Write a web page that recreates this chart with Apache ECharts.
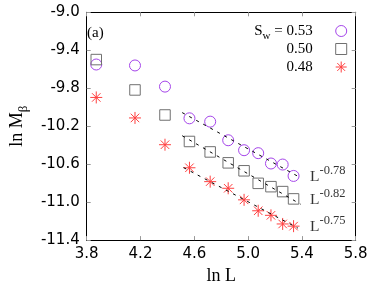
<!DOCTYPE html>
<html><head><meta charset="utf-8">
<script src="https://cdn.jsdelivr.net/npm/echarts@6/dist/echarts.min.js"></script>
<style>html,body{margin:0;padding:0;background:#fff}#c{width:374px;height:290px}</style>
</head><body><div id="c"></div>
<script>
// ln L values (L = 48 ... 208)
const lnL = [3.871, 4.159, 4.382, 4.564, 4.718, 4.852, 4.970, 5.075, 5.170, 5.257, 5.338];
// ln M_beta for each S_w
const m053 = [-9.550, -9.560, -9.783, -10.117, -10.152, -10.348, -10.453, -10.484, -10.593, -10.604, -10.724];
const m050 = [-9.498, -9.818, -10.082, -10.361, -10.471, -10.586, -10.670, -10.802, -10.837, -10.889, -10.966];
const m048 = [-9.897, -10.113, -10.395, -10.638, -10.784, -10.854, -10.976, -11.091, -11.139, -11.230, -11.253];
const seriesNames = ['S_w = 0.53', '0.50', '0.48'];
// power-law fits  ln M = a + b ln L
const fitExponents = [-0.78, -0.82, -0.75];
const fitIntercepts = [-6.539, -6.602, -7.246];
const fitStart = [4.51, 4.51, 4.52];
const fitEnd = [5.39, 5.39, 5.37];
const fitLabels = ['-0.78', '-0.82', '-0.75'];
const fitLabelY = [-10.733, -10.975, -11.265];
const fitLabelX = 5.461;
const xRange = [3.8, 5.8];
const yRange = [-11.4, -9.0];
const tickStep = 0.4;

const serif = '"Liberation Serif", "DejaVu Serif", serif';
const sans = '"DejaVu Sans", sans-serif';
const colors = ['#a545ea', '#707070', '#ff4040'];
const starPath = 'path://M0,5L10,5M5,0L5,10M1.46,1.46L8.54,8.54M8.54,1.46L1.46,8.54';
const symbols = ['circle', 'rect', starPath];
const sizes = [11, 10.5, 12];
const values = [m053, m050, m048];

const chart = echarts.init(document.getElementById('c'), null, {renderer: 'canvas'});

const series = [];
values.forEach((arr, i) => {
  series.push({
    name: seriesNames[i], type: 'scatter', xAxisIndex: 0, yAxisIndex: 0,
    data: lnL.map((x, k) => [x, arr[k]]),
    symbol: symbols[i], symbolSize: sizes[i],
    itemStyle: {color: 'rgba(0,0,0,0)', borderColor: colors[i], borderWidth: 1, opacity: 1},
    z: 3
  });
});
fitExponents.forEach((b, i) => {
  const a = fitIntercepts[i];
  series.push({
    type: 'line', xAxisIndex: 0, yAxisIndex: 0, showSymbol: false, silent: true,
    data: [[fitStart[i], a + b * fitStart[i]], [fitEnd[i], a + b * fitEnd[i]]],
    lineStyle: {color: '#000', width: 1, type: [3, 5]}, z: 4
  });
});
series.push({
  type: 'scatter', xAxisIndex: 0, yAxisIndex: 0, symbolSize: 0, silent: true,
  data: fitLabels.map((t, i) => ({value: [fitLabelX, fitLabelY[i]], name: t})),
  label: {
    show: true, position: 'right', distance: 0,
    formatter: p => '{L|L}{s|' + p.name + '}',
    rich: {
      L: {fontFamily: serif, fontSize: 15.5, lineHeight: 26, color: '#000'},
      s: {fontFamily: serif, fontSize: 12.5, lineHeight: 12.5, verticalAlign: 'top', color: '#000'}
    }
  }
});

const legendTops = [23.5, 41.5, 59.5];
const legends = seriesNames.map((n, i) => ({
  data: [n], orient: 'vertical', right: 26.8, top: legendTops[i], padding: 0,
  align: 'right', itemWidth: 11, itemHeight: 11, selectedMode: false,
  itemStyle: {borderWidth: 1},
  textStyle: {fontFamily: serif, fontSize: 15, color: '#000', padding: [0, 18, 0, 0],
    rich: {
      n: {fontFamily: serif, fontSize: 15, lineHeight: 22, color: '#000'},
      sub: {fontFamily: serif, fontSize: 11, lineHeight: 11, verticalAlign: 'bottom', color: '#000'}
    }},
  formatter: name => name.startsWith('S_w') ? '{n|S}{sub|w}{n| ' + name.slice(4) + '}' : '{n|' + name + '}'
}));

const axisCommon = {
  type: 'value', interval: tickStep,
  axisLine: {show: true, onZero: false, lineStyle: {color: '#000', width: 1}},
  axisTick: {show: true, inside: true, length: 4, lineStyle: {color: '#999', width: 1}},
  splitLine: {show: false}
};

chart.setOption({
  animation: false,
  backgroundColor: '#fff',
  grid: {left: 72.7, right: 18.3, top: 12.3, bottom: 47.7, containLabel: false},
  legend: legends,
  xAxis: [
    Object.assign({}, axisCommon, {min: xRange[0], max: xRange[1], position: 'bottom',
      axisLabel: {show: true, fontFamily: sans, fontSize: 15, color: '#000', margin: 7,
        formatter: v => v.toFixed(1)},
      name: 'ln L', nameLocation: 'middle', nameGap: 24,
      nameTextStyle: {fontFamily: serif, fontSize: 18, color: '#000'}}),
    Object.assign({}, axisCommon, {min: xRange[0], max: xRange[1], position: 'top',
      axisLabel: {show: false}})
  ],
  yAxis: [
    Object.assign({}, axisCommon, {min: yRange[0], max: yRange[1], position: 'left',
      axisLabel: {show: true, fontFamily: sans, fontSize: 15, color: '#000', margin: 7,
        formatter: v => v.toFixed(1)},
      name: '{n|ln M}{sub|β}', nameLocation: 'middle', nameGap: 46, nameRotate: 90,
      nameTextStyle: {rich: {
        n: {fontFamily: serif, fontSize: 18, lineHeight: 26, color: '#000'},
        sub: {fontFamily: serif, fontSize: 13, lineHeight: 13, verticalAlign: 'bottom', color: '#000'}
      }}}),
    Object.assign({}, axisCommon, {min: yRange[0], max: yRange[1], position: 'right',
      axisLabel: {show: false}})
  ],
  graphic: [{type: 'text', left: 87, top: 26,
    style: {text: '(a)', fontFamily: serif, fontSize: 15, fill: '#000'}}],
  series: series
});
</script></body></html>
